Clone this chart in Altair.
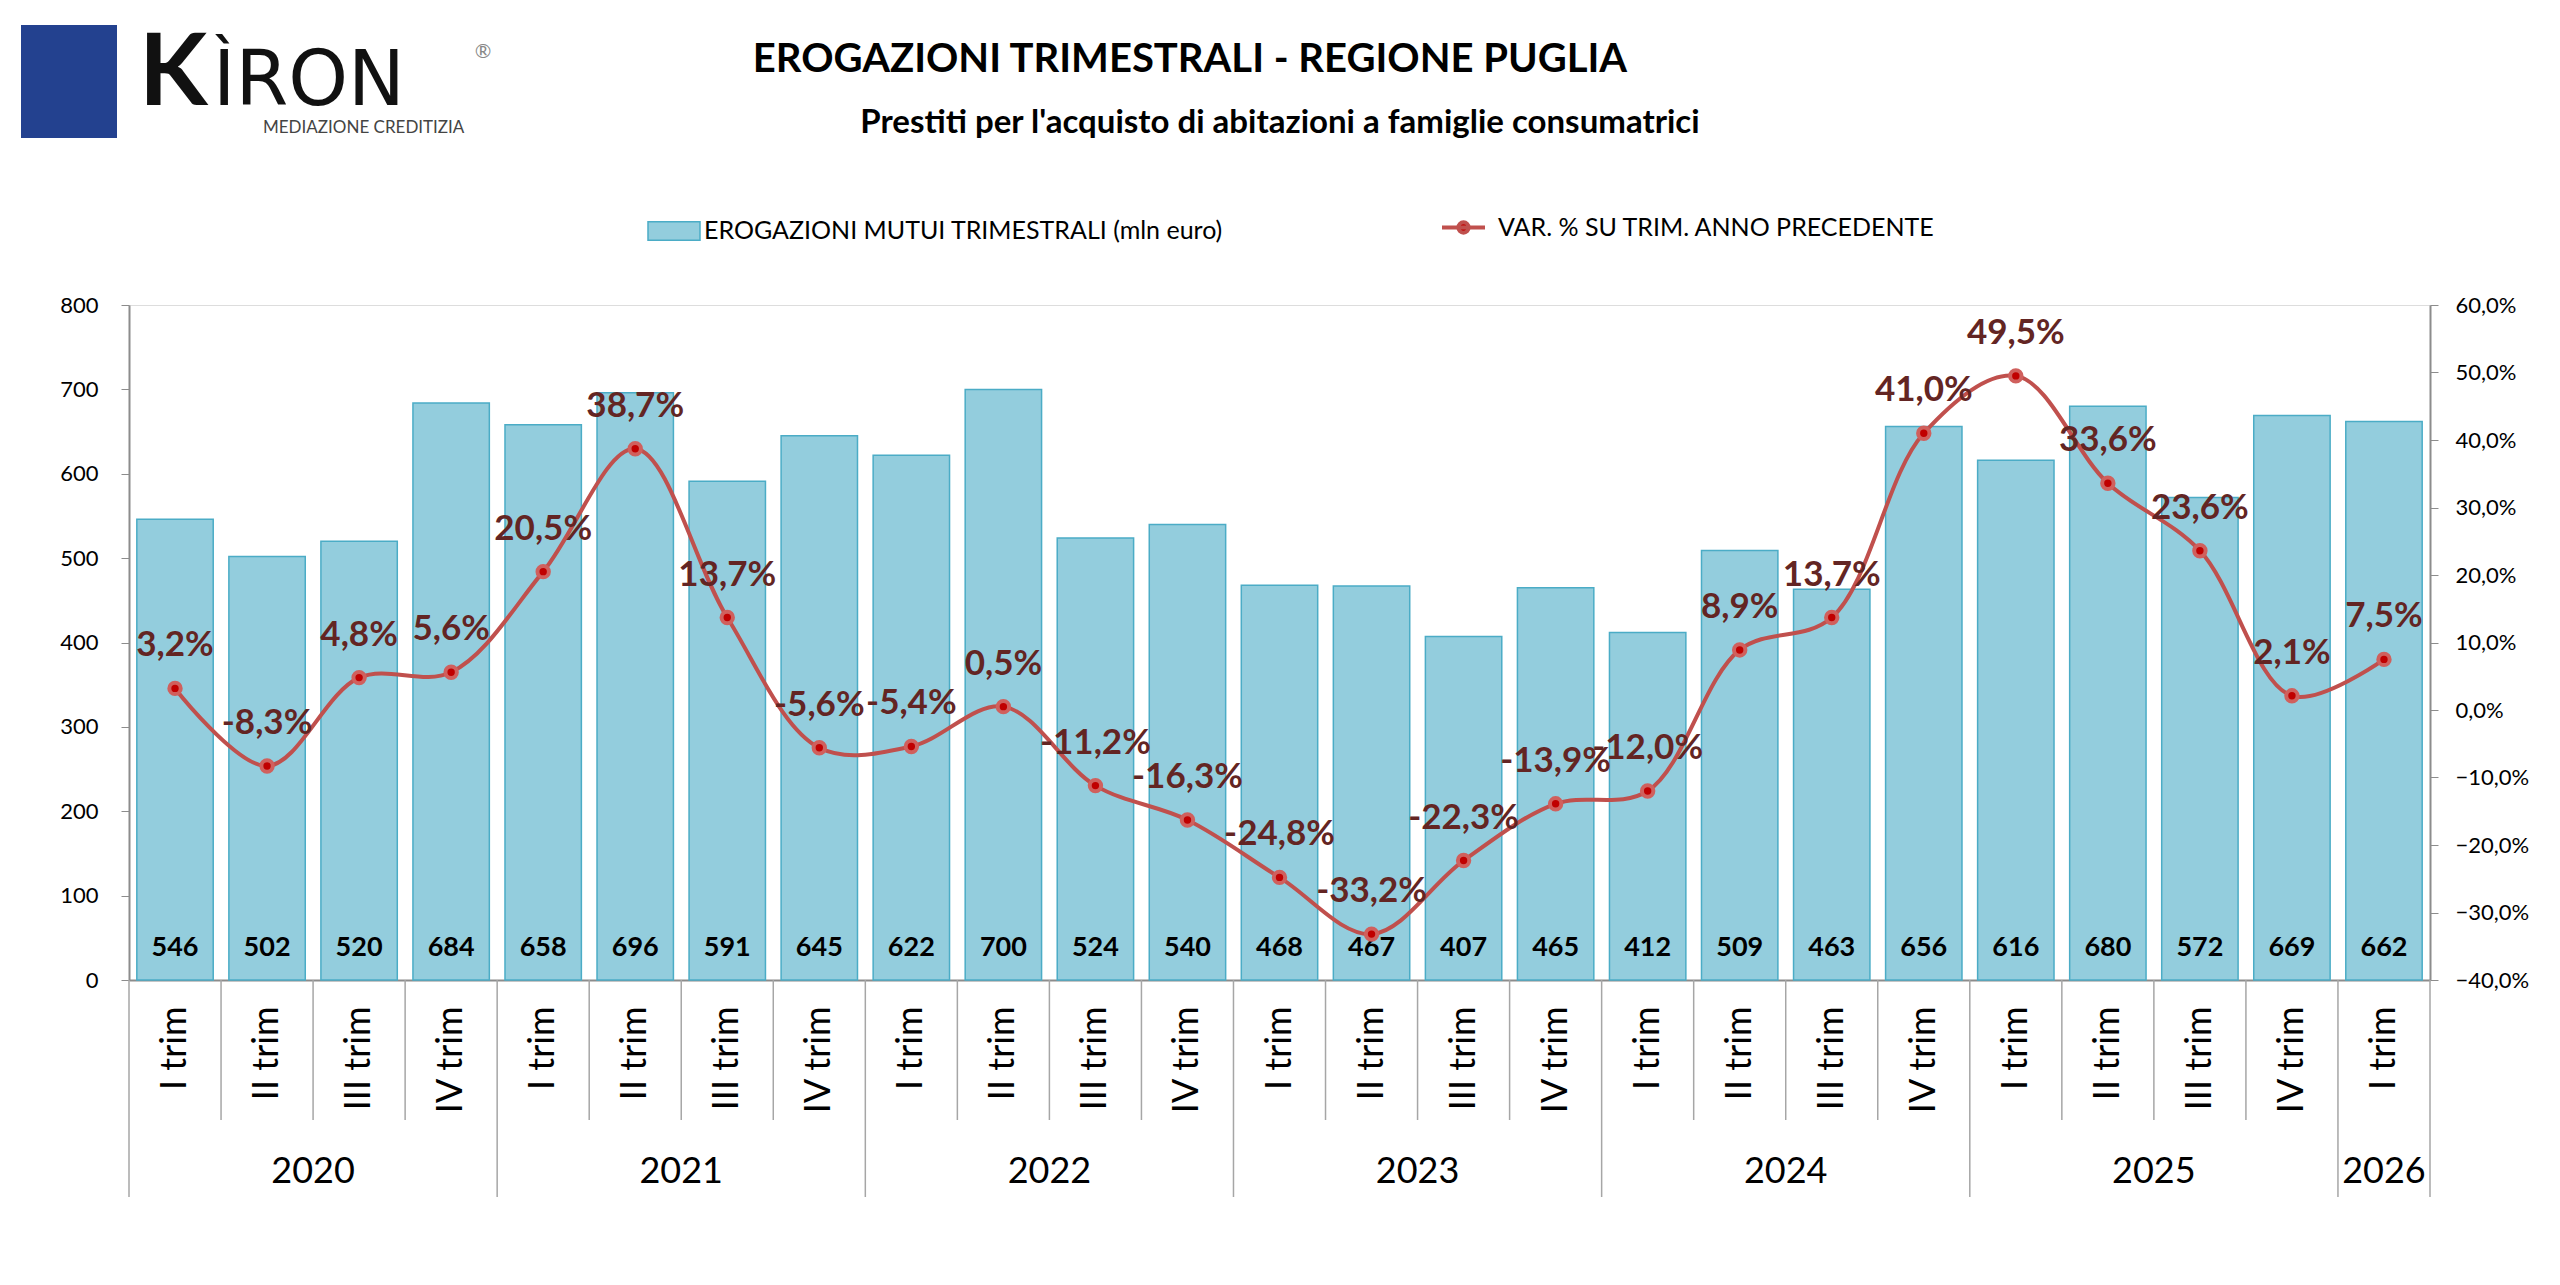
import altair as alt
import pandas as pd

# ---------------- data ----------------
YEARS = ["2020", "2021", "2022", "2023", "2024", "2025", "2026"]
QUARTERS_PER_YEAR = [4, 4, 4, 4, 4, 4, 1]
QUARTER_NAMES = ["I trim", "II trim", "III trim", "IV trim"]
EROGAZIONI = [546, 502, 520, 684, 658, 696, 591, 645, 622, 700, 524, 540,
              468, 467, 407, 465, 412, 509, 463, 656, 616, 680, 572, 669, 662]
VARIAZIONE = [3.2, -8.3, 4.8, 5.6, 20.5, 38.7, 13.7, -5.6, -5.4, 0.5, -11.2, -16.3,
              -24.8, -33.2, -22.3, -13.9, -12.0, 8.9, 13.7, 41.0, 49.5, 33.6, 23.6, 2.1, 7.5]
LEFT_TICKS = [0, 100, 200, 300, 400, 500, 600, 700, 800]
RIGHT_TICKS = [-40, -30, -20, -10, 0, 10, 20, 30, 40, 50, 60]

TITLE = "EROGAZIONI TRIMESTRALI - REGIONE PUGLIA"
SUBTITLE = "Prestiti per l'acquisto di abitazioni a famiglie consumatrici"
BAR_SERIES = "EROGAZIONI MUTUI TRIMESTRALI (mln euro)"
LINE_SERIES = "VAR. % SU TRIM. ANNO PRECEDENTE"

# ---------------- table ----------------
yrs, qs = [], []
for y, n in zip(YEARS, QUARTERS_PER_YEAR):
    for q in QUARTER_NAMES[:n]:
        yrs.append(y)
        qs.append(q)
keys = [f"{y} {q}" for y, q in zip(yrs, qs)]
df = pd.DataFrame({"key": keys, "year": yrs, "quarter": qs,
                   "value": EROGAZIONI, "pct": VARIAZIONE})
df["pct_label"] = df["pct"].map(lambda v: f"{v:.1f}".replace(".", ",") + "%")
df["bar_series"] = BAR_SERIES
df["line_series"] = LINE_SERIES

# year label anchors
even_rows, odd_rows = [], []
start = 0
for y, n in zip(YEARS, QUARTERS_PER_YEAR):
    if n % 2 == 0:
        even_rows.append({"year": y, "key": keys[start + n // 2]})
    else:
        odd_rows.append({"year": y, "key": keys[start + n // 2]})
    start += n
year_even = pd.DataFrame(even_rows)
year_odd = pd.DataFrame(odd_rows)

# ---------------- layout ----------------
PLOT_W = 2301
PLOT_H = 675
FONT = "Lato"

X_SCALE = alt.Scale(domain=keys, paddingInner=0, paddingOuter=0)
X_AXIS = alt.Axis(title=None, labelExpr="substring(datum.value, 5)", labelAngle=270,
                  labelFontSize=36, labelFont=FONT, labelColor="#000000",
                  labelPadding=26, tickSize=0, domainColor="#8C8C8C", domainWidth=2,
                  labelOverlap=False, grid=False, labelLimit=400)


def xenc(bp=None):
    if bp is None:
        return alt.X("key:N", scale=X_SCALE, axis=X_AXIS)
    return alt.X("key:N", scale=X_SCALE, axis=X_AXIS, bandPosition=bp)


base = alt.Chart(df)

# bars
bars = base.mark_bar(width=alt.RelativeBandSize(0.83), stroke="#4BACC6",
                     strokeWidth=1.5).encode(
    x=xenc(),
    y=alt.Y("value:Q", scale=alt.Scale(domain=[0, 800], nice=False),
            axis=alt.Axis(orient="left", values=LEFT_TICKS, title=None, grid=False,
                          tickSize=8, tickColor="#8C8C8C", domainColor="#8C8C8C",
                          domainWidth=2, labelFontSize=22, labelFont=FONT,
                          labelColor="#000000", labelPadding=23)),
    color=alt.Color("bar_series:N", scale=alt.Scale(range=["#93CDDD"]),
                    legend=alt.Legend(orient="none", legendX=518, legendY=-101,
                                      title=None,
                                      symbolType="M-1,-0.36H1V0.36H-1Z",
                                      symbolSize=2704, symbolStrokeColor="#4BACC6",
                                      symbolStrokeWidth=1.5, labelFontSize=25,
                                      labelFont=FONT, labelColor="#000000",
                                      labelOffset=3, padding=0, labelLimit=1000)),
)
bar_labels = base.mark_text(font=FONT, fontSize=27, fontWeight="bold", color="#000000",
                            baseline="middle", align="center").encode(
    x=xenc(), y=alt.value(PLOT_H - 32), text="value:Q")

bar_group = alt.layer(bars, bar_labels)

# line
PCT_Y = alt.Y("pct:Q", scale=alt.Scale(domain=[-40, 60], nice=False),
              axis=alt.Axis(orient="right", values=RIGHT_TICKS, title=None, grid=False,
                            tickSize=8, tickColor="#8C8C8C", domainColor="#8C8C8C",
                            domainWidth=2, labelFontSize=22, labelFont=FONT,
                            labelColor="#000000", labelPadding=17,
                            labelExpr="replace(format(datum.value, '.1f'), '.', ',') + '%'"))
line = base.mark_line(interpolate="catmull-rom", strokeWidth=4).encode(
    x=xenc(), y=PCT_Y,
    stroke=alt.Stroke("line_series:N", scale=alt.Scale(range=["#C0504D"]),
                      legend=alt.Legend(orient="none", legendX=1311, legendY=-101,
                                        title=None,
                                        symbolType="M-1,0H1M-0.24,0A0.24,0.24 0 1,1 0.24,0A0.24,0.24 0 1,1 -0.24,0Z",
                                        symbolSize=1849, symbolFillColor="#C00000",
                                        symbolStrokeWidth=4, labelFontSize=25,
                                        labelFont=FONT, labelColor="#000000",
                                        labelOffset=11, padding=0, labelLimit=1000)),
)
points = base.mark_point(filled=True, shape="circle", size=130, fill="#C00000",
                         stroke="#D0605D", strokeWidth=4, opacity=1).encode(
    x=xenc(), y=PCT_Y)
pct_labels = base.mark_text(font=FONT, fontSize=35, fontWeight="bold", color="#632523",
                            baseline="middle", align="center", dy=-43).encode(
    x=xenc(), y=PCT_Y, text="pct_label:N")
line_group = alt.layer(line, points, pct_labels)

# axis category separators
q_sep = base.transform_filter("datum.quarter != 'I trim'").mark_rule(
    color="#A6A6A6", strokeWidth=1.5).encode(
    x=xenc(0), y=alt.value(PLOT_H), y2=alt.value(PLOT_H + 140))
y_sep = base.transform_filter("datum.quarter == 'I trim'").mark_rule(
    color="#A6A6A6", strokeWidth=1.5).encode(
    x=xenc(0), y=alt.value(PLOT_H), y2=alt.value(PLOT_H + 217))
end_sep = alt.Chart(df.tail(1)).mark_rule(color="#A6A6A6", strokeWidth=1.5).encode(
    x=xenc(1), y=alt.value(PLOT_H), y2=alt.value(PLOT_H + 217))

year_lab_even = alt.Chart(year_even).mark_text(font=FONT, fontSize=36, color="#000000",
                                                baseline="middle", align="center").encode(
    x=xenc(0), y=alt.value(PLOT_H + 192), text="year:N")
year_lab_odd = alt.Chart(year_odd).mark_text(font=FONT, fontSize=36, color="#000000",
                                              baseline="middle", align="center").encode(
    x=xenc(0.5), y=alt.value(PLOT_H + 192), text="year:N")

# titles
title_mark = alt.Chart(pd.DataFrame({"t": [TITLE]})).mark_text(
    font=FONT, fontSize=40, fontWeight="bold", color="#000000",
    align="center", baseline="middle").encode(
    x=alt.value(1061), y=alt.value(-245), text="t:N")
subtitle_mark = alt.Chart(pd.DataFrame({"t": [SUBTITLE]})).mark_text(
    font=FONT, fontSize=33, fontWeight="bold", color="#000000",
    align="center", baseline="middle").encode(
    x=alt.value(1151), y=alt.value(-182), text="t:N")

# logo
logo_box = alt.Chart(pd.DataFrame({"a": [0]})).mark_rect(color="#23418F").encode(
    x=alt.value(-108), x2=alt.value(-12), y=alt.value(-280), y2=alt.value(-167))
logo_k = alt.Chart(pd.DataFrame({"t": ["K"]})).mark_text(
    font=FONT, fontSize=100, fontWeight="bold", color="#111111",
    align="left", baseline="alphabetic").encode(
    x=alt.value(10), y=alt.value(-200), text="t:N")
logo_r = alt.Chart(pd.DataFrame({"t": ["ÌRON"]})).mark_text(
    font="DejaVu Sans", fontSize=76, fontWeight="normal", color="#111111",
    align="left", baseline="alphabetic").encode(
    x=alt.value(84), y=alt.value(-200), text="t:N")
logo_sub = alt.Chart(pd.DataFrame({"t": ["MEDIAZIONE CREDITIZIA"]})).mark_text(
    font=FONT, fontSize=17, color="#444444", align="left", baseline="alphabetic").encode(
    x=alt.value(134), y=alt.value(-172), text="t:N")
logo_reg = alt.Chart(pd.DataFrame({"t": ["®"]})).mark_text(
    font=FONT, fontSize=20, color="#888888", align="center", baseline="middle").encode(
    x=alt.value(354), y=alt.value(-253), text="t:N")

chart = alt.layer(
    logo_box, logo_k, logo_r, logo_sub, logo_reg,
    title_mark, subtitle_mark,
    bar_group, line_group,
    q_sep, y_sep, end_sep, year_lab_even, year_lab_odd,
).resolve_scale(y="independent").properties(
    width=PLOT_W, height=PLOT_H,
    autosize=alt.AutoSizeParams(type="none"),
    padding={"left": 121, "top": 297, "right": 110, "bottom": 240},
).configure_view(stroke=None).configure(font=FONT)

chart.save("out.html", embed_options={"renderer": "svg", "actions": False})
